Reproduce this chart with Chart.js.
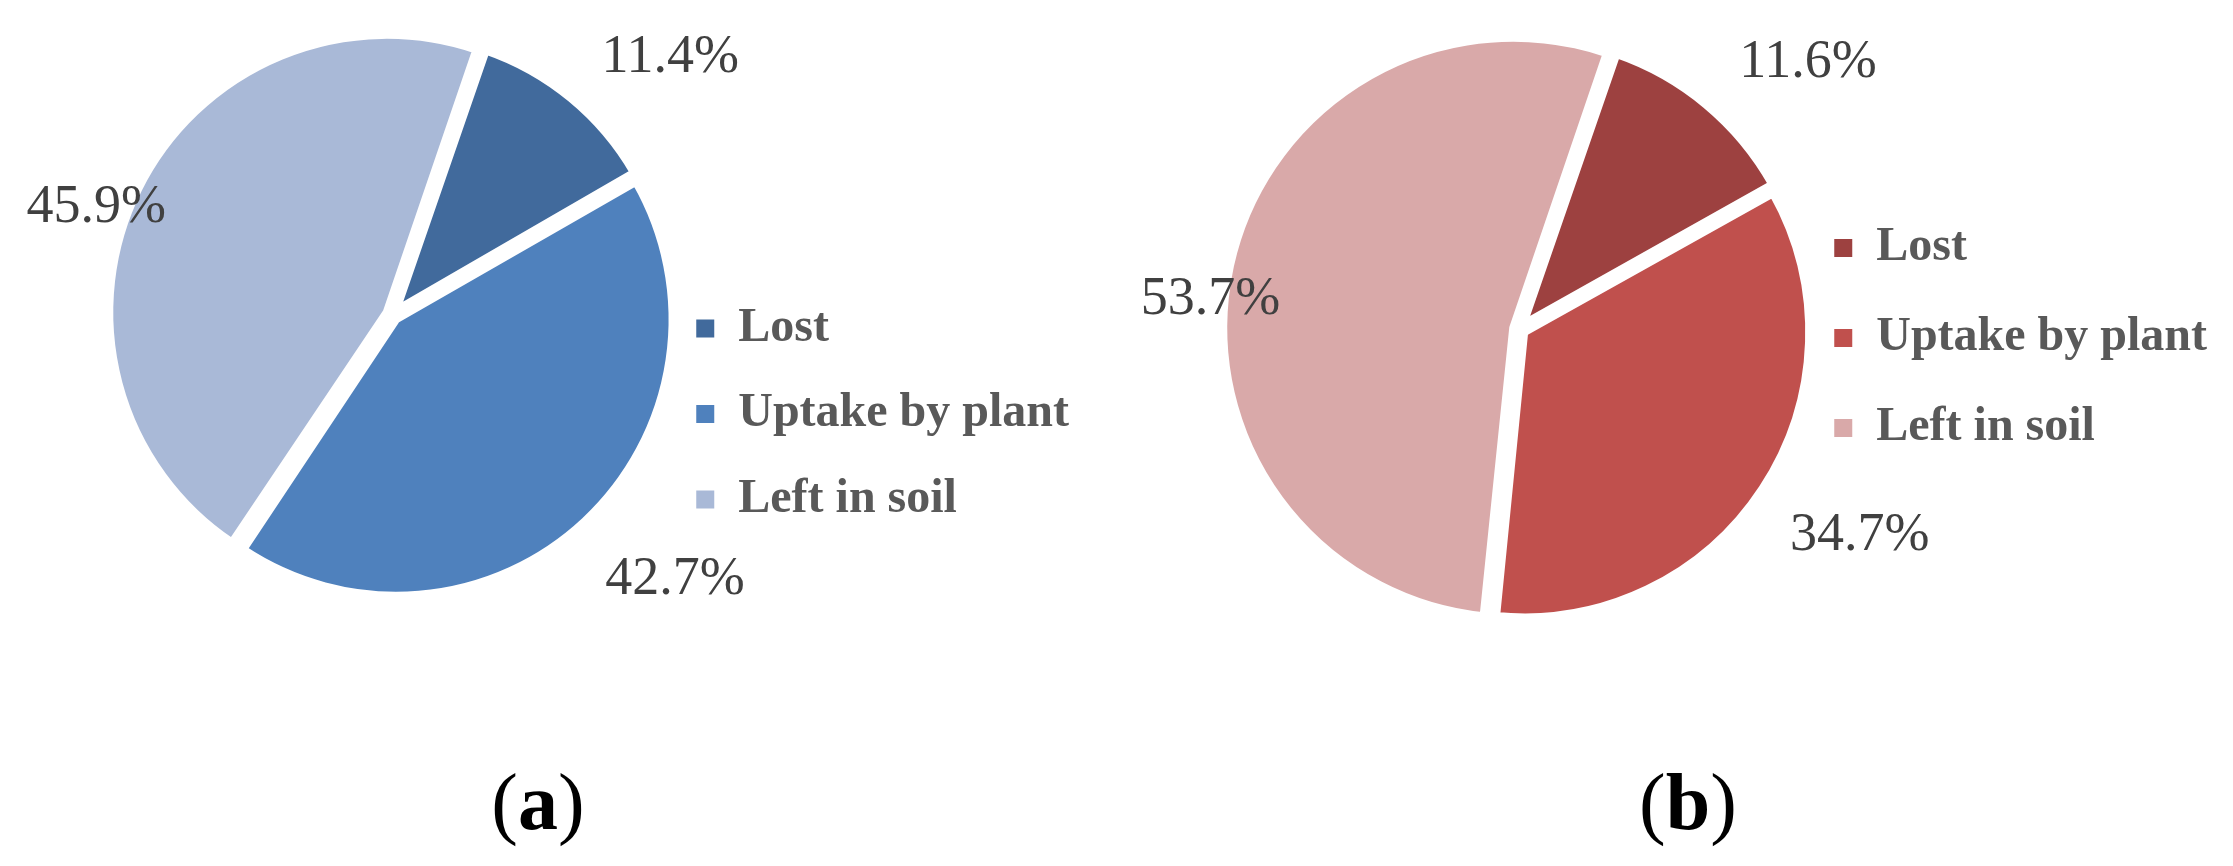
<!DOCTYPE html>
<html>
<head>
<meta charset="utf-8">
<script src="https://cdn.jsdelivr.net/npm/chart.js@4/dist/chart.umd.min.js"></script>
<style>
  html, body { margin: 0; padding: 0; background: #ffffff; }
  body { width: 2233px; height: 866px; position: relative; overflow: hidden; }
  .panel { position: absolute; top: 0; height: 700px; }
  .caption {
    position: absolute; top: 762px; width: 200px; text-align: center;
    font-family: "Liberation Serif", serif; font-size: 80px; line-height: 80px; color: #000;
  }
  .caption b { font-weight: bold; }
</style>
</head>
<body>
<div class="panel" id="panel-a" style="left:0px; width:1100px;"><canvas id="chartA"></canvas></div>
<div class="panel" id="panel-b" style="left:1110px; width:1123px;"><canvas id="chartB"></canvas></div>
<div class="caption" style="left:438px;">(<b>a</b>)</div>
<div class="caption" style="left:1588px;">(<b>b</b>)</div>

<script>
// data
const categories = ['Lost', 'Uptake by plant', 'Left in soil'];
const valuesA = [11.4, 42.7, 45.9];
const valuesB = [11.6, 34.7, 53.7];

// colours
const colorsA = ['#416a9c', '#4f81bd', '#a9b9d7'];
const colorsB = ['#9d4140', '#c0504d', '#d9a9a9'];

// label placement per slice: [radius factor, angle nudge in degrees]
const labelPlaceA = [[1.397, 7.3], [1.41, -4.2], [1.158, -5.8]];
const labelPlaceB = [[1.393, 7.0], [1.395, -2.5], [1.093, -6.2]];

const LABEL_SIZE = 54;

// draws the percentage next to each slice, using the arc geometry from Chart.js
const pctLabels = {
    id: 'pctLabels',
    afterDatasetsDraw(chart, args, opts) {
        const ctx = chart.ctx;
        const meta = chart.getDatasetMeta(0);
        const data = chart.data.datasets[0].data;
        ctx.save();
        ctx.font = LABEL_SIZE + 'px "Liberation Serif", serif';
        ctx.fillStyle = '#404040';
        ctx.textAlign = 'center';
        ctx.textBaseline = 'alphabetic';
        meta.data.forEach((arc, i) => {
            const p = arc.getProps(['x', 'y', 'startAngle', 'endAngle', 'outerRadius'], true);
            const place = opts.place[i];
            const mid = (p.startAngle + p.endAngle) / 2 + place[1] * Math.PI / 180;
            const r = p.outerRadius * place[0];
            // centre of the digits sits about a third of the font size above the baseline
            ctx.fillText(data[i].toFixed(1) + '%',
                p.x + Math.cos(mid) * r,
                p.y + Math.sin(mid) * r + LABEL_SIZE * 0.34);
        });
        ctx.restore();
    }
};

// legend squares without the white slice border
function legendItems(chart) {
    const items = Chart.overrides.doughnut.plugins.legend.labels.generateLabels(chart);
    items.forEach(it => {
        it.lineWidth = 0;
        it.strokeStyle = it.fillStyle;
    });
    return items;
}

function makePie(canvasId, values, colors, opt) {
    const ctx = document.getElementById(canvasId).getContext('2d');
    return new Chart(ctx, {
        type: 'pie',
        data: {
            labels: categories,
            datasets: [{
                data: values,
                backgroundColor: colors,
                borderColor: '#ffffff',
                borderWidth: 8,
                offset: 24, // arc draw uses offset / 4
                hoverOffset: 0
            }]
        },
        options: {
            responsive: true,
            maintainAspectRatio: false,
            animation: false,
            rotation: 19,
            radius: opt.radius,
            layout: { padding: opt.padding },
            plugins: {
                tooltip: { enabled: false },
                pctLabels: { place: opt.place },
                legend: {
                    display: true,
                    position: 'right',
                    align: 'center',
                    title: {
                        display: true,
                        text: '',
                        font: { size: 1 },
                        padding: { top: 0, bottom: opt.spacer }
                    },
                    labels: {
                        boxWidth: 18,
                        boxHeight: 18,
                        padding: opt.itemPad,
                        color: '#595959',
                        font: { family: '"Liberation Serif", serif', size: 48, weight: 'bold' },
                        generateLabels: legendItems
                    }
                }
            }
        },
        plugins: [pctLabels]
    });
}

makePie('chartA', valuesA, colorsA, {
    radius: 273,
    padding: { left: 125.5, right: 21, top: 0, bottom: 70 },
    place: labelPlaceA,
    spacer: 196.8,
    itemPad: 37.5
});

makePie('chartB', valuesB, colorsB, {
    radius: 284,
    padding: { left: 136, right: 16, top: 0, bottom: 42 },
    place: labelPlaceB,
    spacer: 16.8,
    itemPad: 42
});
</script>
</body>
</html>
